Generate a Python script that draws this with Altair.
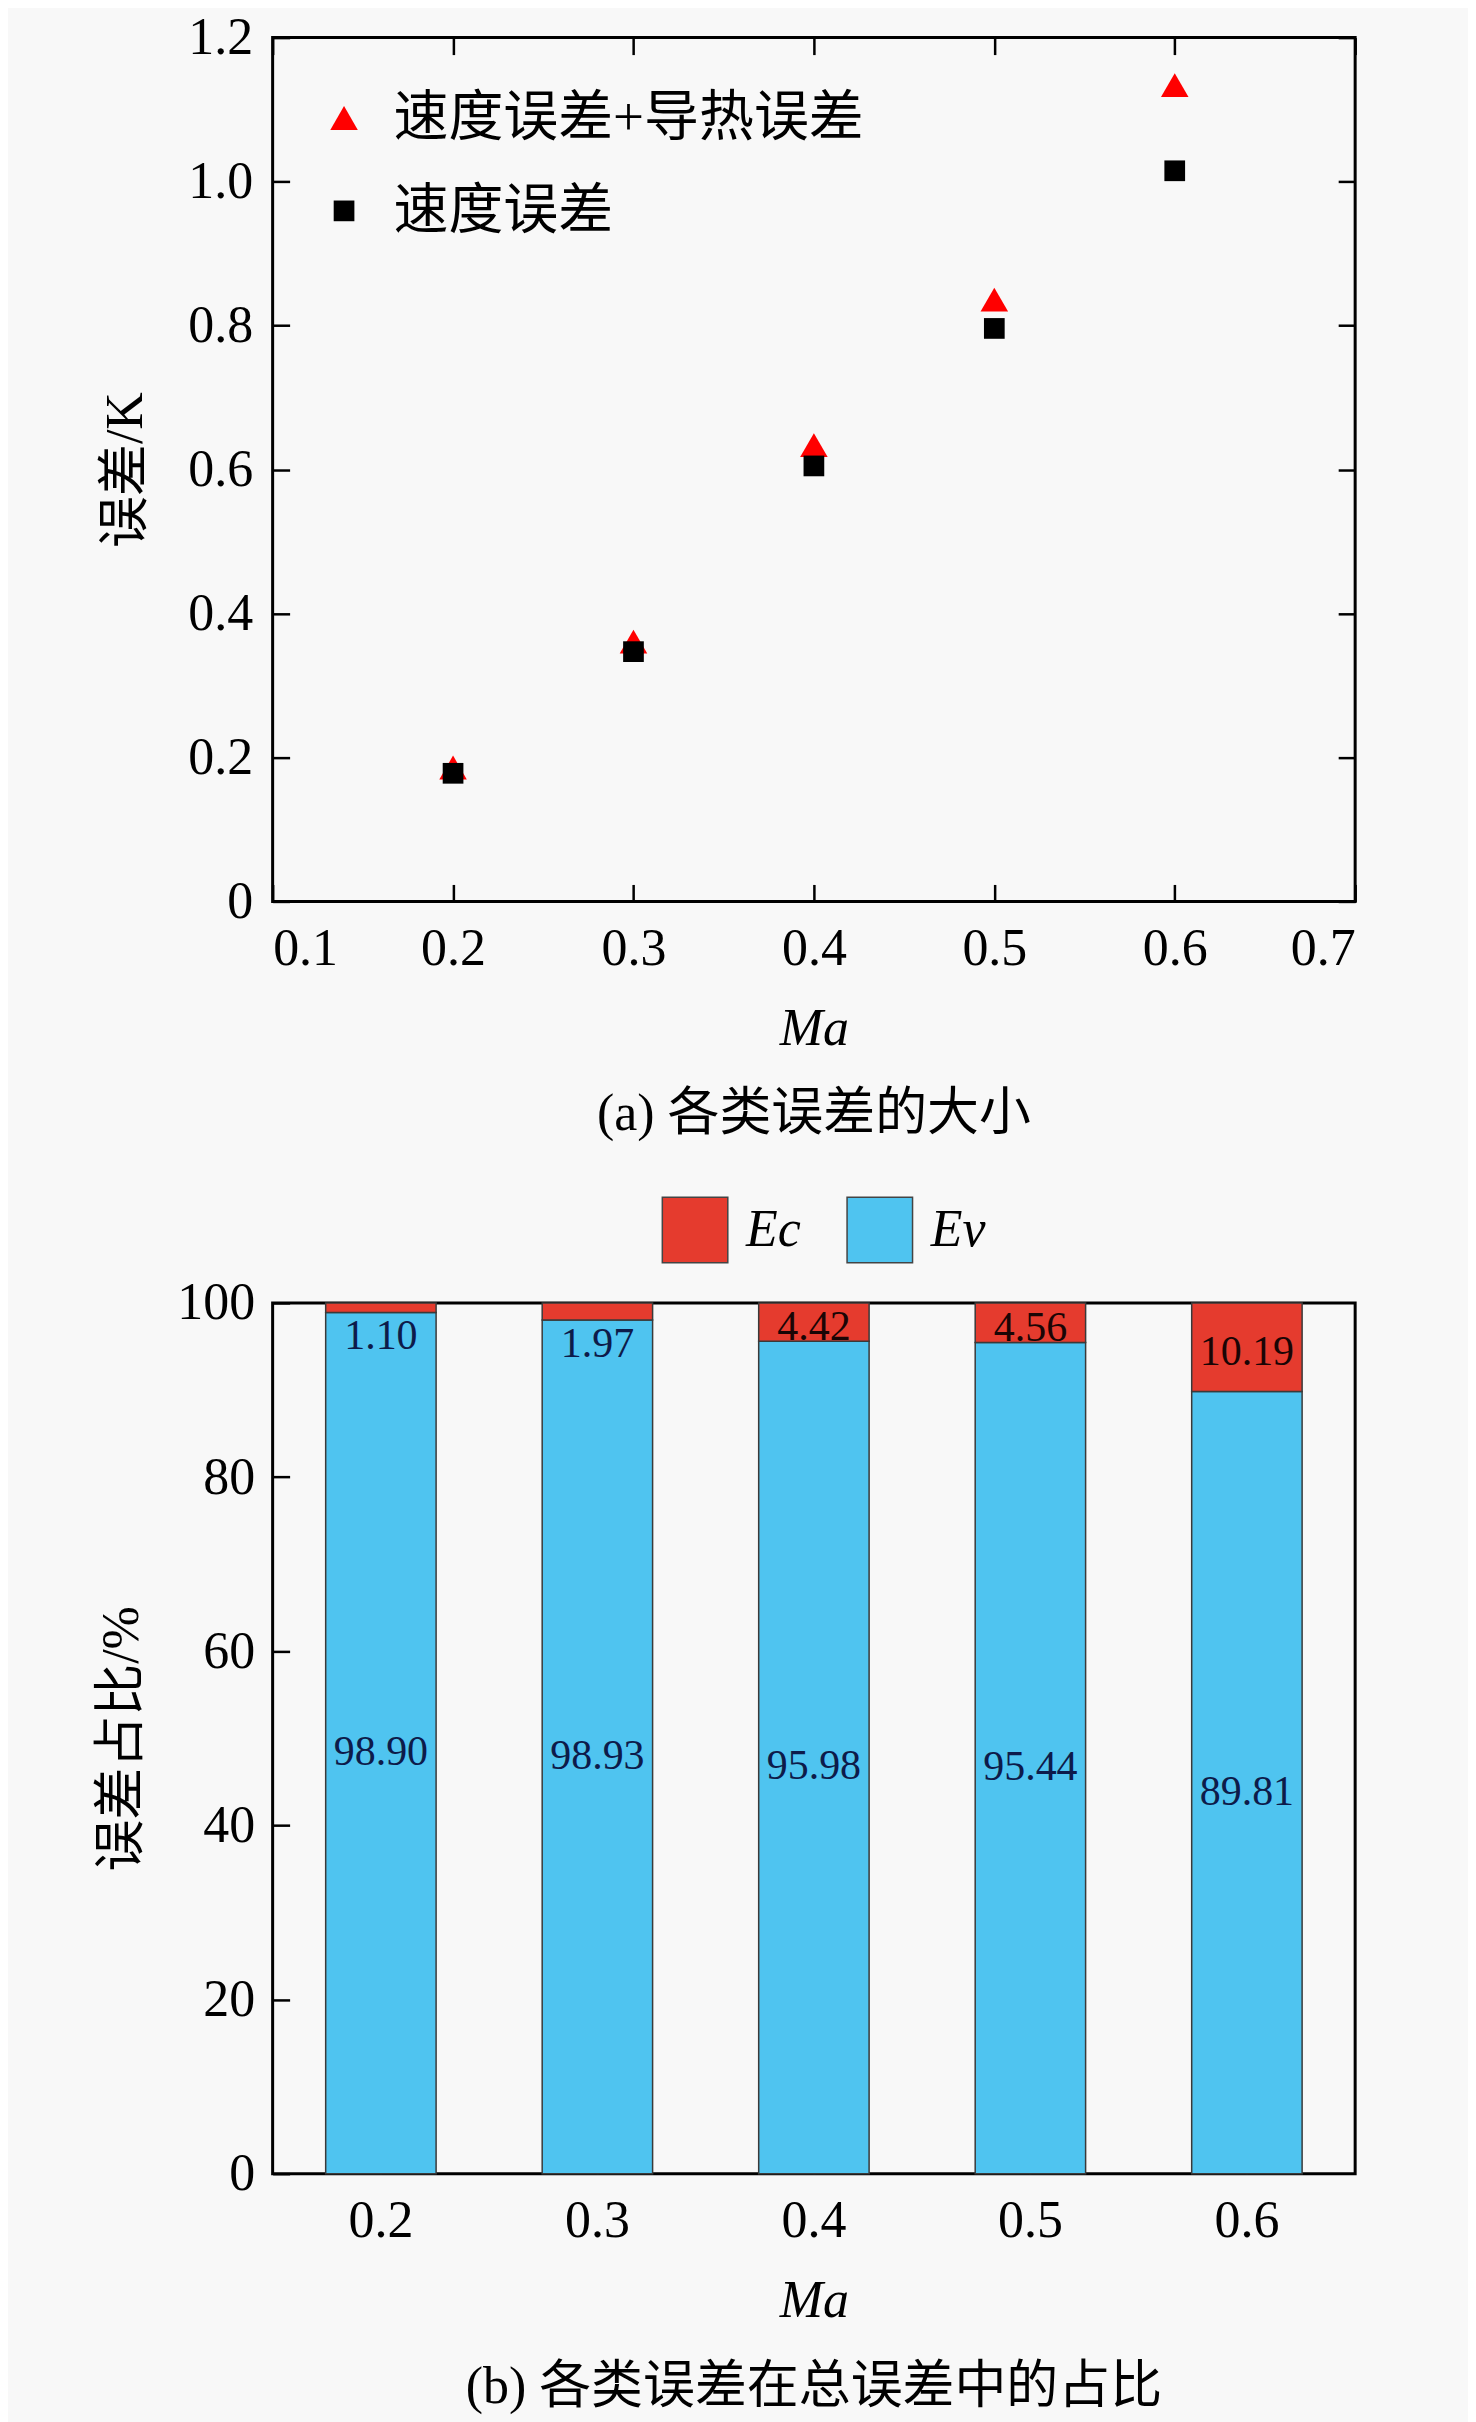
import altair as alt
import pandas as pd

# ---------- data (a) ----------
ma = [0.2, 0.3, 0.4, 0.5, 0.6]
err_total = [0.186, 0.361, 0.634, 0.836, 1.134]   # 速度误差+导热误差
err_vel = [0.178, 0.347, 0.605, 0.796, 1.015]     # 速度误差
series_names = ["速度误差+导热误差", "速度误差"]
x_ticks_a = [0.1, 0.2, 0.3, 0.4, 0.5, 0.6, 0.7]
y_ticks_a = [0, 0.2, 0.4, 0.6, 0.8, 1.0, 1.2]

# ---------- data (b) ----------
ma_labels = ["0.2", "0.3", "0.4", "0.5", "0.6"]
ec_pct = [1.10, 1.97, 4.42, 4.56, 10.19]
ev_pct = [98.90, 98.03, 95.58, 95.44, 89.81]
ec_text = ["1.10", "1.97", "4.42", "4.56", "10.19"]
ev_text = ["98.90", "98.93", "95.98", "95.44", "89.81"]
comp_names = ["Ec", "Ev"]
y_ticks_b = [0, 20, 40, 60, 80, 100]

FONT = "Liberation Serif, Noto Sans CJK SC"
W = 1084
H1 = 865
H2 = 872
TICK = 17

# ================= chart (a) =================
df_a = pd.DataFrame({
    "Ma": ma + ma,
    "err": err_total + err_vel,
    "series": [series_names[0]] * 5 + [series_names[1]] * 5,
})
xs_a = alt.Scale(domain=[0.1, 0.7], nice=False, zero=False)
ys_a = alt.Scale(domain=[0, 1.2], nice=False)

leg_a = alt.Legend(orient="none", legendX=44, legendY=53, title=None,
                   labelFont=FONT, labelFontSize=55, labelColor="black", labelLimit=1000,
                   rowPadding=37, labelOffset=22, padding=0,
                   symbolStrokeWidth=0, symbolOpacity=1)

points = alt.Chart(df_a).mark_point(filled=True, opacity=1, strokeWidth=0).encode(
    x=alt.X("Ma:Q", scale=xs_a,
            axis=alt.Axis(values=x_ticks_a, format=".1f", ticks=False, domain=False,
                          grid=False, labelPadding=22, title="Ma",
                          titleFontStyle="italic", titlePadding=29)),
    y=alt.Y("err:Q", scale=ys_a,
            axis=alt.Axis(values=y_ticks_a,
                          labelExpr="datum.value == 0 ? '0' : format(datum.value, '.1f')",
                          ticks=False, domain=False, grid=False, labelPadding=20,
                          title="误差/K", titlePadding=35)),
    color=alt.Color("series:N", scale=alt.Scale(domain=series_names, range=["#ff0000", "#000000"]),
                    legend=leg_a),
    shape=alt.Shape("series:N", scale=alt.Scale(domain=series_names, range=["triangle-up", "square"]),
                    legend=leg_a),
    size=alt.Size("series:N", scale=alt.Scale(domain=series_names, range=[760, 430]),
                  legend=leg_a),
)

ticks_a1 = alt.Chart(df_a).mark_point(opacity=0).encode(
    x=alt.X("Ma:Q", scale=xs_a,
            axis=alt.Axis(orient="top", offset=-H1, values=x_ticks_a, labels=False, domain=False,
                          grid=False, tickSize=TICK, tickWidth=2.5, tickColor="black", title=None)),
    y=alt.Y("err:Q", scale=ys_a,
            axis=alt.Axis(orient="right", offset=-W, values=y_ticks_a, labels=False, domain=False,
                          grid=False, tickSize=TICK, tickWidth=2.5, tickColor="black", title=None)),
)
ticks_a2 = alt.Chart(df_a).mark_point(opacity=0).encode(
    x=alt.X("Ma:Q", scale=xs_a,
            axis=alt.Axis(orient="bottom", offset=-H1, values=x_ticks_a, labels=False, domain=False,
                          grid=False, tickSize=TICK, tickWidth=2.5, tickColor="black", title=None)),
    y=alt.Y("err:Q", scale=ys_a,
            axis=alt.Axis(orient="left", offset=-W, values=y_ticks_a, labels=False, domain=False,
                          grid=False, tickSize=TICK, tickWidth=2.5, tickColor="black", title=None)),
)

chart_a = alt.layer(ticks_a1, ticks_a2, points).resolve_axis(
    x="independent", y="independent"
).properties(
    width=W, height=H1,
    title=alt.TitleParams("(a) 各类误差的大小", orient="bottom", anchor="middle", frame="group",
                          font=FONT, fontSize=52, fontWeight="normal", color="black", offset=35),
)

# ================= chart (b) =================
df_b = pd.DataFrame({
    "Ma": ma_labels + ma_labels,
    "pct": ev_pct + ec_pct,
    "comp": ["Ev"] * 5 + ["Ec"] * 5,
    "ord": [0] * 5 + [1] * 5,
})
df_lab = pd.DataFrame({
    "Ma": ma_labels, "ec": ec_pct, "ev": ev_pct, "ec_t": ec_text, "ev_t": ev_text,
})

xs_b = alt.Scale(domain=ma_labels, paddingInner=0.49, paddingOuter=0.245)
ys_b = alt.Scale(domain=[0, 100], nice=False)

bars = alt.Chart(df_b).mark_bar(stroke="#3a3a3a", strokeWidth=1.5).encode(
    x=alt.X("Ma:N", scale=xs_b, sort=ma_labels,
            axis=alt.Axis(labelAngle=0, ticks=False, domain=False, grid=False, labelPadding=22,
                          title="Ma", titleFontStyle="italic", titlePadding=29)),
    y=alt.Y("pct:Q", stack="zero", scale=ys_b,
            axis=alt.Axis(values=y_ticks_b, ticks=False, domain=False, grid=False, labelPadding=18,
                          title="误差占比/%", titlePadding=28)),
    color=alt.Color("comp:N", scale=alt.Scale(domain=comp_names, range=["#E53B2E", "#4FC4F0"]),
                    legend=alt.Legend(orient="none", legendX=389, legendY=-107, direction="horizontal",
                                      title=None, symbolType="square", symbolSize=4300,
                                      symbolStrokeColor="#444444", symbolStrokeWidth=1.5,
                                      symbolOpacity=1, labelFont="Liberation Serif",
                                      labelFontStyle="italic", labelFontSize=52, labelColor="black",
                                      columnPadding=43, labelOffset=17, padding=0)),
    order=alt.Order("ord:Q"),
)

ev_labels = alt.Chart(df_lab).transform_calculate(
    mid="datum.ev / 2"
).mark_text(font="Liberation Serif", fontSize=42, color="#0d1b4a", baseline="middle", dy=9).encode(
    x=alt.X("Ma:N", scale=xs_b, sort=ma_labels, axis=None),
    y=alt.Y("mid:Q", scale=ys_b, axis=None),
    text="ev_t:N",
)
ec_labels_big = alt.Chart(df_lab).transform_filter("datum.ec >= 3").transform_calculate(
    mid="datum.ev + datum.ec / 2"
).mark_text(font="Liberation Serif", fontSize=42, color="#1a0505", baseline="middle", dy=5).encode(
    x=alt.X("Ma:N", scale=xs_b, sort=ma_labels, axis=None),
    y=alt.Y("mid:Q", scale=ys_b, axis=None),
    text="ec_t:N",
)
ec_labels_small = alt.Chart(df_lab).transform_filter("datum.ec < 3").mark_text(
    font="Liberation Serif", fontSize=42, color="#0d1b4a", baseline="top", dy=4
).encode(
    x=alt.X("Ma:N", scale=xs_b, sort=ma_labels, axis=None),
    y=alt.Y("ev:Q", scale=ys_b, axis=None),
    text="ec_t:N",
)

ticks_b = alt.Chart(df_b).mark_point(opacity=0).encode(
    x=alt.X("Ma:N", scale=xs_b, sort=ma_labels,
            axis=alt.Axis(orient="top", offset=-H2, labels=False, domain=False, grid=False,
                          tickSize=TICK, tickWidth=2.5, tickColor="#222222", title=None)),
    y=alt.Y("pct:Q", scale=ys_b,
            axis=alt.Axis(orient="right", offset=-W, values=y_ticks_b, labels=False, domain=False,
                          grid=False, tickSize=TICK, tickWidth=2.5, tickColor="black", title=None)),
)

chart_b = alt.layer(bars, ev_labels, ec_labels_big, ec_labels_small, ticks_b).resolve_axis(
    x="independent", y="independent"
).properties(
    width=W, height=H2,
    title=alt.TitleParams("(b) 各类误差在总误差中的占比", orient="bottom", anchor="middle", frame="group",
                          font=FONT, fontSize=52, fontWeight="normal", color="black", offset=36),
)

chart = alt.vconcat(chart_a, chart_b, spacing=52).resolve_scale(
    color="independent", shape="independent", size="independent"
).resolve_legend(
    color="independent", shape="independent", size="independent"
).properties(
    padding={"left": 86, "top": 0, "right": 110, "bottom": 5},
    background="#f8f8f8",
).configure_view(
    stroke="black", strokeWidth=3
).configure_axis(
    labelFont="Liberation Serif", labelFontSize=52, labelColor="black",
    titleFont=FONT, titleFontSize=52, titleFontWeight="normal", titleColor="black",
)

chart.save("out.html", embed_options={"renderer": "svg", "actions": False})
